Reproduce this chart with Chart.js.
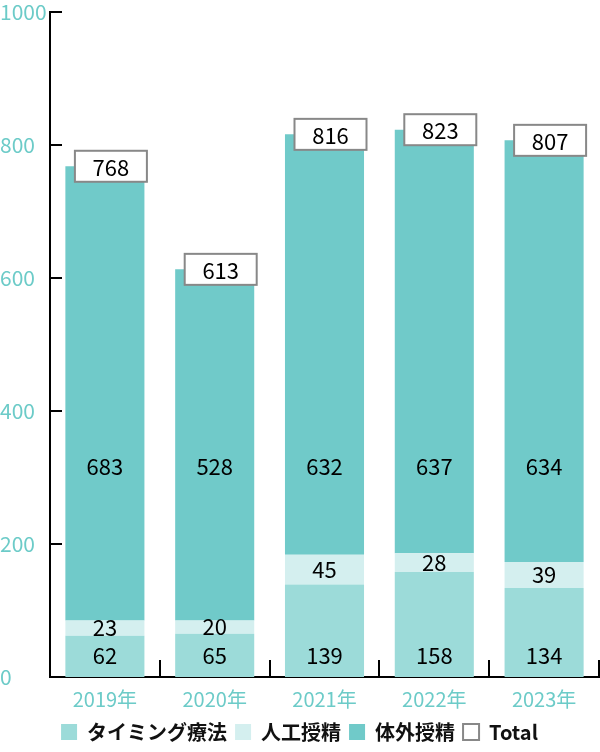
<!DOCTYPE html>
<html><head><meta charset="utf-8">
<script src="https://cdn.jsdelivr.net/npm/chart.js@4.4.0/dist/chart.umd.min.js"></script>
<style>html,body{margin:0;padding:0;background:#fff}#wrap{width:600px;height:752px}</style>
</head><body><div id="wrap"><canvas id="c" width="600" height="752"></canvas></div>
<script>
const categories = ['2019年','2020年','2021年','2022年','2023年'];
const timing = [62, 65, 139, 158, 134];
const insemination = [23, 20, 45, 28, 39];
const ivf = [683, 528, 632, 637, 634];
const totals = [768, 613, 816, 823, 807];
const seriesNames = ['タイミング療法','人工授精','体外授精','Total'];
const yTicks = [0, 200, 400, 600, 800, 1000];

const TEAL = '#6ccbc8';
const FONT = "'Noto Sans CJK JP', 'Noto Sans', sans-serif";

const overlay = {
  id: 'overlay',
  afterDatasetsDraw(chart) {
    const ctx = chart.ctx, ys = chart.scales.y, xs = chart.scales.x, ca = chart.chartArea;
    ctx.save();
    ctx.strokeStyle = '#000'; ctx.lineWidth = 2;
    yTicks.forEach(v => {
      const y = Math.round(ys.getPixelForValue(v));
      ctx.beginPath(); ctx.moveTo(ca.left, y); ctx.lineTo(ca.left + 12, y); ctx.stroke();
    });
    const step = xs.getPixelForValue(1) - xs.getPixelForValue(0);
    for (let i = 0; i < categories.length; i++) {
      const x = Math.round(xs.getPixelForValue(i) + step / 2);
      ctx.beginPath(); ctx.moveTo(x, ca.bottom); ctx.lineTo(x, ca.bottom - 17); ctx.stroke();
    }
    ctx.fillStyle = '#000';
    ctx.font = '22px ' + FONT;
    ctx.textAlign = 'center'; ctx.textBaseline = 'middle';
    categories.forEach((c, i) => {
      const x = xs.getPixelForValue(i);
      ctx.fillText(String(timing[i]), x, ca.bottom - 21);
      const midAI = ys.getPixelForValue(timing[i] + insemination[i] / 2);
      ctx.fillText(String(insemination[i]), x, midAI);
      ctx.fillText(String(ivf[i]), x, ys.getPixelForValue(316));
    });
    categories.forEach((c, i) => {
      const x = xs.getPixelForValue(i) + 6;
      const y = ys.getPixelForValue(totals[i]);
      const w = 72, h = 31;
      ctx.fillStyle = '#fff';
      ctx.fillRect(x - w / 2, y - h / 2, w, h);
      ctx.strokeStyle = '#888'; ctx.lineWidth = 2;
      ctx.strokeRect(x - w / 2, y - h / 2, w, h);
      ctx.fillStyle = '#000';
      ctx.fillText(String(totals[i]), x, y + 1);
    });
    ctx.restore();
  }
};

new Chart(document.getElementById('c'), {
  data: {
    labels: categories,
    datasets: [
      { type: 'bar', label: seriesNames[0], data: timing, backgroundColor: '#9cdbd9', stack: 's' },
      { type: 'bar', label: seriesNames[1], data: insemination, backgroundColor: '#d4efef', stack: 's' },
      { type: 'bar', label: seriesNames[2], data: ivf, backgroundColor: '#70cac9', stack: 's' },
      { type: 'line', label: seriesNames[3], data: totals, showLine: false, pointRadius: 0, borderColor: '#888', backgroundColor: '#fff', borderWidth: 2, stack: 'total' }
    ]
  },
  options: {
    responsive: false,
    animation: false,
    layout: { autoPadding: false, padding: { top: 12, right: 1, left: 0, bottom: 0 } },
    datasets: { bar: { barPercentage: 0.72, categoryPercentage: 1 } },
    plugins: {
      tooltip: { enabled: false },
      legend: {
        position: 'bottom',
        labels: {
          font: { family: FONT, size: 20, weight: 'bold' },
          color: '#111',
          boxWidth: 16, boxHeight: 16, padding: 8,
          generateLabels(chart) {
            return chart.data.datasets.map((d, i) => ({
              text: d.label,
              fillStyle: i === 3 ? '#fff' : d.backgroundColor,
              strokeStyle: i === 3 ? '#888' : d.backgroundColor,
              lineWidth: i === 3 ? 2 : 0,
              datasetIndex: i,
              fontColor: '#111'
            }));
          }
        }
      }
    },
    scales: {
      x: {
        stacked: true,
        grid: { display: false, drawTicks: false },
        border: { display: true, color: '#000', width: 2 },
        ticks: { color: TEAL, font: { family: FONT, size: 20 }, padding: 10 },
        afterFit(s) { s.height = 37; }
      },
      y: {
        stacked: true, min: 0, max: 1000,
        afterBuildTicks(s) { s.ticks = yTicks.map(v => ({ value: v })); },
        grid: { display: false, drawTicks: false },
        border: { display: true, color: '#000', width: 2 },
        ticks: { color: TEAL, font: { family: FONT, size: 21, lineHeight: 1.0 }, crossAlign: 'far', padding: 0, callback: v => String(v) },
        afterFit(s) { s.width = 50; }
      }
    }
  },
  plugins: [overlay]
});
</script></body></html>
